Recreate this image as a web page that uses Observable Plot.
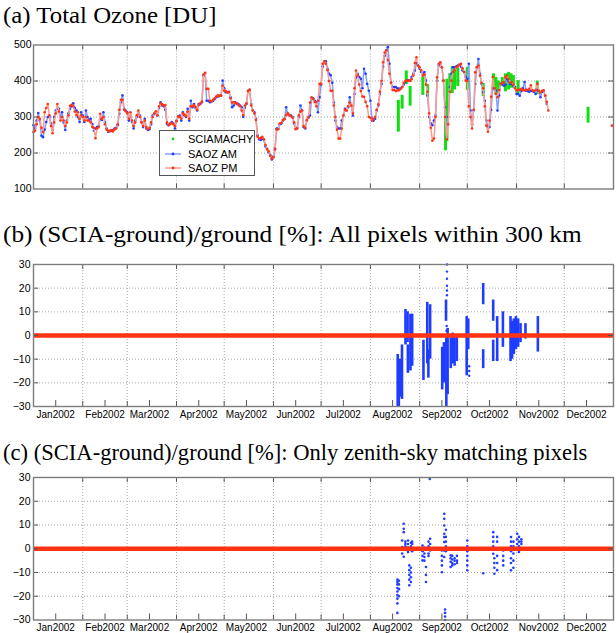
<!DOCTYPE html>
<html><head><meta charset="utf-8">
<script src="https://cdn.jsdelivr.net/npm/d3@7"></script>
<script src="https://cdn.jsdelivr.net/npm/@observablehq/plot@0.6"></script>
<style>
html,body{margin:0;padding:0;background:#fff;}
#wrap{position:relative;width:616px;height:633px;overflow:hidden;background:#fff;}
.title{position:absolute;left:3px;font-family:"Liberation Serif","Times New Roman",serif;font-size:24px;line-height:24px;color:#000;white-space:nowrap;transform-origin:0 0;}
.panel{position:absolute;left:0;}
.panel svg{display:block;}
#legend{position:absolute;left:159px;top:130px;width:96px;height:46px;box-sizing:border-box;border:1px solid #555;background:#fff;font-family:"Liberation Sans",Arial,sans-serif;font-size:11px;color:#000;}
.li{position:absolute;left:0;width:94px;height:12px;line-height:12px;}
.li svg{position:absolute;left:4px;top:0;}
.li span{position:absolute;left:28px;top:0;white-space:nowrap;}
</style></head>
<body>
<div id="wrap">
  <div class="title" data-w="213" style="top:3px">(a) Total Ozone [DU]</div>
  <div class="panel" id="pa" style="top:40px"></div>
  <div id="legend"></div>
  <div class="title" data-w="579" style="top:222px">(b) (SCIA-ground)/ground [%]: All pixels within 300 km</div>
  <div class="panel" id="pb" style="top:258px"></div>
  <div class="title" data-w="584" style="top:440px">(c) (SCIA-ground)/ground [%]: Only zenith-sky matching pixels</div>
  <div class="panel" id="pc" style="top:471px"></div>
</div>
<script>
// ---------- data (days counted from 1 Jan 2002) ----------
const monthLabels = ["Jan2002","Feb2002","Mar2002","Apr2002","May2002","Jun2002","Jul2002","Aug2002","Sep2002","Oct2002","Nov2002","Dec2002"];
const ozoneTicks = [100, 200, 300, 400, 500];
const diffTicks = [-30, -20, -10, 0, 10, 20, 30];
const legendLabels = ["SCIAMACHY", "SAOZ AM", "SAOZ PM"];

const amO3 = [277,268,290,311,290,248,244,265,286,300,300,282,264,300,318,323,323,300,313,285,264,290,310,323,330,338,325,318,300,286,313,304,286,318,300,292,295,280,262,268,272,275,295,292,313,285,268,259,262,262,264,268,270,277,309,341,360,323,318,313,290,305,286,268,290,300,310,304,286,272,295,268,264,266,280,304,308,313,304,325,341,332,330,320,281,277,282,286,282,268,290,300,304,290,313,305,300,323,290,345,327,336,325,318,336,336,341,415,420,345,345,341,343,345,350,355,357,359,359,401,380,369,369,369,355,327,332,341,336,336,332,327,300,326,336,373,375,336,318,313,295,249,238,236,240,236,218,212,202,194,182,190,213,268,268,280,282,290,295,327,309,305,304,300,282,268,270,300,332,318,272,268,290,298,304,350,352,345,341,313,355,390,440,452,455,434,420,416,395,340,290,272,268,268,290,304,323,318,327,355,332,304,364,410,420,411,406,380,434,420,392,373,345,295,290,295,318,332,364,392,440,470,485,494,448,397,383,383,383,380,378,380,383,390,397,401,401,401,411,420,429,450,443,434,425,420,425,401,360,300,282,277,290,304,401,443,448,438,401,327,245,300,383,420,438,438,440,443,445,440,429,425,411,406,448,318,280,318,392,438,461,420,392,369,345,290,272,272,320,380,378,373,318,360,392,392,387,390,405,400,392,392,387,383,364,364,359,373,380,397,373,372,370,373,372,370,364,375,373,355,370,372,359,336];
const pmO3 = [258,262,280,300,295,270,258,313,325,336,305,275,255,285,310,336,315,290,300,290,275,285,305,331,334,330,315,305,313,295,305,300,290,300,290,290,285,272,270,241,268,272,309,295,300,280,265,262,260,264,260,265,268,280,320,348,348,320,316,310,295,313,290,275,285,305,318,300,285,275,290,272,266,270,285,300,310,316,305,330,338,335,332,333,285,278,280,284,280,275,288,302,300,295,310,307,302,315,295,330,330,333,328,320,333,338,343,418,423,378,378,345,343,348,352,357,360,358,360,387,373,372,368,370,352,340,341,338,338,333,330,318,305,332,338,372,376,332,318,310,292,245,240,242,245,238,222,210,205,192,185,188,210,265,266,282,284,292,294,305,310,306,302,298,285,266,268,305,315,318,275,270,292,300,340,355,350,342,330,345,392,392,448,455,448,430,400,373,373,332,300,265,240,240,268,304,320,318,330,340,332,310,380,429,415,390,372,357,356,342,330,300,298,290,295,300,320,335,370,400,452,479,485,458,420,395,375,375,372,374,374,378,383,395,400,401,401,400,405,415,450,466,443,438,430,415,418,390,370,310,270,234,240,300,410,448,452,438,401,300,238,280,370,401,425,430,438,440,445,448,435,425,401,400,330,300,268,320,424,438,443,415,395,380,330,276,259,290,356,411,380,365,355,375,392,395,397,410,415,406,395,397,390,380,374,375,376,378,374,374,376,375,378,388,374,372,375,392,373,368,373,374,360,342,318];
const pmLateDay = [364];
const pmLateO3 = [276];

const sciaDay = [229.6,232.0,234.6,237.0,245.0,248.0,259.3,260.2,262.0,263.5,265.0,267.0,273.0,283.0,289.5,291.0,292.5,295.0,297.0,299.0,300.5,302.0,305.0,317.0,349.0];
const sciaLo  = [258,322,390,330,360,355,206,232,370,365,375,385,374,357,375,360,365,385,370,375,380,380,365,362,283];
const sciaHi  = [346,360,428,385,411,390,340,405,420,440,440,435,438,393,420,410,400,410,420,424,420,415,401,400,327];

const bDay = [229.2,229.9,230.6,231.9,234.1,235.4,235.6,237.2,238.3,245.4,247.8,248.5,249.6,257.2,258.3,259.6,259.8,260.6,262.6,263.8,265.0,266.4,272.6,273.6,283.0,283.0,289.3,289.3,291.8,295.4,300.2,301.2,302.3,303.6,305.0,306.5,309.6,317.4];
const bLo  = [-30,-30,-26,-27,-4,-3,-16,-15,-13,-19,-12,-18,-10,-23,-20,6,-30,-25,-14,-12,-13,-11,-17,-6,13,-14,6,-11,-11,-5,-11,-10,-8,-6,-5,-3,-1.5,-7];
const bHi  = [-8,-12,-10,-4,11,10,-4,9,9,-2,14,-6,13,-5,-3,15,0,3,-1,1,-1,0,8,7,22,-6,15,-2,8,10,8,6,7,8,7,5,5,8];
const bDotDay = [260.2,260.2,260.2,260.2,260.2,260.2,260.0,259.9,274.2,274.2,274.2];
const bDotVal = [30,27,24,21,19,17,4,2,-13,-15,-17];

const cDay = [229,229,229,229,229,229,229,229,229,230,230,230,230,232,232,232,233,233,233,233,234,234,234,234,235.7,235.7,235.7,235.7,236.5,236.5,236.5,236.5,236.5,237.5,237.5,237.5,237.5,237.5,237.5,238.3,238.3,238.3,238.3,244.8,244.8,244.8,244.8,246,246,246,246,247,247,247,248.6,248.6,248.6,248.6,249.4,249.6,249.6,249.6,249.6,257,257,257,257,257,258.5,258.5,258.5,258.5,258.5,258.5,258.5,258.5,258.5,259.5,259.5,259.5,259.5,259.5,259,259,259,259,262.5,262.5,262.5,262.5,263.5,263.5,263.5,263.5,265,265,265,266.5,266.5,266.5,273,273,273,273,273,273,273,283,289.3,289.3,289.3,289.3,289.3,290,290,290,290,291.8,291.8,291.8,291.8,291.8,291.8,295.6,295.6,295.6,295.6,300.5,300.5,300.5,300.5,300.5,300.5,300.5,302,302,302,302,302,304.4,304.4,304.4,304.4,305.5,305.5,305.5,305.5,307,307,307];
const cVal = [-13,-14,-15,-16.5,-18,-19.5,-21,-23,-27,-13.5,-15,-17,-20,3.5,0.7,-2,10.5,8.4,7,-3.4,1,-0.5,2,3,3.5,2,0.5,-1.4,-7,-9,-11,-13,-15.4,-8,-10,-12,-14,1,2.5,0,2,3,-1,1.4,-1,-3,-4.9,-2,-3.5,-5,0.5,-7.7,-11,-14,1,-2,-3,3,29.4,4.2,2,0,-0.7,-0.7,-3,-5,-7,-9.9,14.7,12.6,9.8,6.3,4.9,2.8,0,-0.7,-3.5,8,5,3,1,-1,-25.6,-27,-28.5,-30,-2.8,-4,-5.5,-7.7,-3,-4.5,-6,-7,-4,-5,-6.5,-3,-5,-6,3.5,1,-1,-3,-5,-7,-9.1,-10.3,7,5,3,1,-2.1,-4,-6,-8,-10.5,5,3,0,-3,-6,-9,-0.7,-3,-5,-7,4.9,3,1,-1,-4,-6,-9.1,3,1,-2,-5,-8,6.3,4,2,0,5,3,1,-1.4,4,3,2];

// ---------- fit titles to their widths ----------
document.querySelectorAll(".title").forEach(el => {
  const w = el.offsetWidth;
  if (w > 0) el.style.transform = `scaleX(${(+el.dataset.w) / w})`;
});

// ---------- helpers ----------
const t = d => new Date(Date.UTC(2002, 0, 1) + d * 864e5);
const X0 = new Date(Date.UTC(2002, 0, 1)), X1 = new Date(Date.UTC(2003, 0, 1));
const monthStarts = d3.utcMonths(X0, new Date(Date.UTC(2003, 0, 2)));
const midMonths = monthStarts.slice(0, 12).map(m => d3.utcDay.offset(m, 14));
const W = 616, ML = 33, MR = 3, innerW = W - ML - MR;
const frameColor = "#7d7d7d", gridColor = "#a9a9a9", tickColor = "#555";
const blue = "#1f3cff", red = "#ff3312";
const font = {fontFamily: "'Liberation Sans', Arial, sans-serif", fontSize: "10.5px", color: "#000", background: "transparent", overflow: "visible"};

function innerTicks(innerH, xTicks, yTicks, len) {
  return [
    Plot.ruleX(xTicks, {stroke: tickColor, strokeWidth: 1, insetTop: innerH - len}),
    Plot.ruleX(xTicks, {stroke: tickColor, strokeWidth: 1, insetBottom: innerH - len}),
    Plot.ruleY(yTicks, {stroke: tickColor, strokeWidth: 1, insetRight: innerW - len}),
    Plot.ruleY(yTicks, {stroke: tickColor, strokeWidth: 1, insetLeft: innerW - len})
  ];
}

// ---------- panel (a) ----------
const am = amO3.map((v, i) => ({date: t(i), o3: v}));
const pm = pmO3.map((v, i) => ({date: t(i), o3: v}));
const pmLate = pmLateDay.map((d, i) => ({date: t(d), o3: pmLateO3[i]}));
const scia = sciaDay.map((d, i) => ({date: t(d), lo: sciaLo[i], hi: sciaHi[i]}));
{
  const H = 152, MT = 4.5, MB = 3.5, innerH = H - MT - MB;
  const svg = Plot.plot({
    width: W, height: H, marginLeft: ML, marginRight: MR, marginTop: MT, marginBottom: MB,
    style: font,
    x: {type: "utc", domain: [X0, X1], axis: null, label: null},
    y: {domain: [100, 500], axis: null, label: null},
    marks: [
      Plot.ruleY(ozoneTicks.slice(1, -1), {stroke: gridColor, strokeDasharray: "1,2"}),
      Plot.ruleX(monthStarts.slice(1, -1), {stroke: gridColor, strokeDasharray: "1,2"}),
      Plot.ruleX(scia, {x: "date", y1: "lo", y2: "hi", stroke: "#10e010", strokeWidth: 3}),
      Plot.line(am, {x: "date", y: "o3", stroke: "#849fff", strokeWidth: 1.5}),
      Plot.dot(am, {x: "date", y: "o3", r: 1.3, fill: blue}),
      Plot.line(pm, {x: "date", y: "o3", stroke: "#ff9a88", strokeWidth: 1.5}),
      Plot.dot(pm, {x: "date", y: "o3", r: 1.3, fill: red}),
      Plot.dot(pmLate, {x: "date", y: "o3", r: 1.3, fill: red}),
      ...innerTicks(innerH, monthStarts.slice(1, -1), ozoneTicks.slice(1, -1), 5),
      Plot.axisY({ticks: ozoneTicks, tickSize: 0, tickPadding: 2, fontSize: 10.5, label: null}),
      Plot.frame({stroke: frameColor, strokeWidth: 1.4})
    ]
  });
  document.getElementById("pa").appendChild(svg);
}

// legend
{
  const lg = document.getElementById("legend");
  const tops = [2, 17, 31];
  const cols = [["#10e010", null], [blue, "#849fff"], [red, "#ff9a88"]];
  legendLabels.forEach((lab, i) => {
    const row = document.createElement("div");
    row.className = "li";
    row.style.top = tops[i] + "px";
    const [dot, line] = cols[i];
    row.innerHTML = `<svg width="18" height="12">${line ? `<line x1="1" x2="17" y1="6" y2="6" stroke="${line}" stroke-width="1.5"/>` : ""}<circle cx="9" cy="6" r="1.4" fill="${dot}"/></svg><span>${lab}</span>`;
    lg.appendChild(row);
  });
}

// ---------- panels (b) and (c) ----------
function diffPanel(el, H, MT, MB, marks) {
  const innerH = H - MT - MB;
  const svg = Plot.plot({
    width: W, height: H, marginLeft: ML, marginRight: MR, marginTop: MT, marginBottom: MB,
    style: font,
    x: {type: "utc", domain: [X0, X1], label: null},
    y: {domain: [-30, 30], label: null},
    marks: [
      Plot.ruleY(diffTicks.filter(v => v !== 0 && Math.abs(v) < 30), {stroke: gridColor, strokeDasharray: "1,2"}),
      Plot.ruleX(monthStarts.slice(1, -1), {stroke: gridColor, strokeDasharray: "1,2"}),
      ...marks,
      Plot.ruleY([0], {stroke: red, strokeWidth: 4.5}),
      ...innerTicks(innerH, monthStarts.slice(1, -1), diffTicks.slice(1, -1), 5),
      Plot.ruleX(midMonths, {stroke: tickColor, strokeWidth: 1, insetTop: innerH - 6}),
      Plot.axisY({ticks: diffTicks, tickSize: 0, tickPadding: 3, fontSize: 10.5, label: null}),
      Plot.axisX({ticks: midMonths, tickSize: 0, tickPadding: 4, fontSize: 10, label: null,
                  tickFormat: d => monthLabels[d.getUTCMonth()]}),
      Plot.frame({stroke: frameColor, strokeWidth: 1.4})
    ]
  });
  document.getElementById(el).appendChild(svg);
}

const bStrips = bDay.map((d, i) => ({date: t(d), lo: bLo[i], hi: bHi[i]}));
const bDots = bDotDay.map((d, i) => ({date: t(d), v: bDotVal[i]}));
diffPanel("pb", 168, 6, 20, [
  Plot.ruleX(bStrips, {x: "date", y1: "lo", y2: "hi", stroke: blue, strokeWidth: 2.6}),
  Plot.dot(bDots, {x: "date", y: "v", r: 1.2, fill: blue})
]);

const cPts = cDay.map((d, i) => ({date: t(d), v: cVal[i]}));
diffPanel("pc", 162, 6, 13.5, [
  Plot.dot(cPts, {x: "date", y: "v", r: 1.3, fill: blue})
]);
</script>
</body></html>
